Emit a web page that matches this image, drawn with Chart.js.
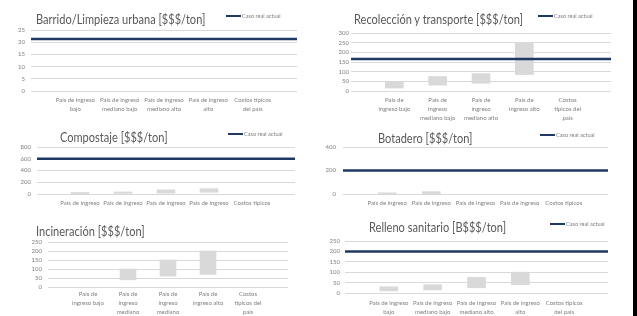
<!DOCTYPE html>
<html>
<head>
<meta charset="utf-8">
<script src="https://cdn.jsdelivr.net/npm/chart.js@4.4.0/dist/chart.umd.min.js"></script>
<style>
  body { margin: 0; width: 637px; height: 316px; overflow: hidden; background: #fff; position: relative; font-family: Lato, sans-serif; }
  .panel { position: absolute; background: #fff; overflow: hidden; }
  .panel canvas { position: absolute; left: 0; top: 0; }
  .ttl { position: absolute; white-space: nowrap; color: #595959; line-height: 1; font-size: 13px; transform: scaleX(0.85); transform-origin: 0 50%; }
  .leg { position: absolute; white-space: nowrap; color: #7f7f7f; font-size: 5.6px; line-height: 6px; display: flex; align-items: center; }
  .leg i { display: inline-block; width: 15px; height: 2px; background: #1f3864; margin-right: 1px; }
  .edge { position: absolute; left: 633px; top: 0; width: 4px; height: 316px; background: #000; z-index: 10; }
</style>
</head>
<body>
<div class="edge"></div>
<script>
// etiquetas de categorias (3 formas de corte de linea, como en el original)
const etiquetas2 = [['País de ingreso', 'bajo'], ['País de ingreso', 'mediano bajo'], ['País de ingreso', 'mediano alto'], ['País de ingreso', 'alto'], ['Costos típicos', 'del país']];
const etiquetas3 = [['País de', 'ingreso bajo'], ['País de', 'ingreso', 'mediano bajo'], ['País de', 'ingreso', 'mediano alto'], ['País de', 'ingreso alto'], ['Costos', 'típicos del', 'país']];
const etiquetas4 = [['País de', 'ingreso bajo'], ['País de', 'ingreso', 'mediano', 'bajo'], ['País de', 'ingreso', 'mediano', 'alto'], ['País de', 'ingreso alto'], ['Costos', 'típicos del', 'país']];

const titulos = ['Barrido/Limpieza urbana [$$$/ton]', 'Recolección y transporte [$$$/ton]', 'Compostaje [$$$/ton]', 'Botadero [$$$/ton]', 'Incineración [$$$/ton]', 'Relleno sanitario [B$$$/ton]'];
const leyenda = 'Caso real actual';
const casoRealActual = [21.3, 166, 600, 200, null, 200];

// rangos min / max por tipo de pais
const barridoMin = [null, null, null, null, null];
const barridoMax = [null, null, null, null, null];
const recoleccionMin = [15, 30, 40, 85, null];
const recoleccionMax = [50, 75, 90, 250, null];
const compostajeMin = [5, 10, 15, 30, null];
const compostajeMax = [25, 35, 70, 90, null];
const botaderoMin = [1, 3, null, null, null];
const botaderoMax = [10, 20, null, null, null];
const incineracionMin = [null, 40, 60, 70, null];
const incineracionMax = [null, 100, 150, 200, null];
const rellenoMin = [10, 15, 25, 40, null];
const rellenoMax = [30, 40, 75, 100, null];

const yMax = [25, 300, 800, 400, 250, 250];
const yStep = [5, 50, 200, 200, 50, 50];

// caja del panel [x, y, w, h], area del grafico [izq, arriba, der, abajo]
const paneles = [
  { box: [0, 0, 318, 112], plot: [31, 30, 297, 91], z: 1, lab: etiquetas2, min: barridoMin, max: barridoMax, yPad: 6, xPad: 4.5, bar: 18, ttl: [36, 19], leg: [226, 16] },
  { box: [318, 0, 315, 125], plot: [351, 33, 611, 91], z: 1, lab: etiquetas3, min: recoleccionMin, max: recoleccionMax, yPad: 2, xPad: 4.5, bar: 18, ttl: [354, 19], leg: [538, 16] },
  { box: [0, 112, 318, 95], plot: [37, 147, 295, 194], z: 2, lab: etiquetas2, min: compostajeMin, max: compostajeMax, yPad: 6, xPad: 5, bar: 18, ttl: [60, 137], leg: [228, 134] },
  { box: [318, 125, 315, 84], plot: [343, 147, 608, 194], z: 2, lab: etiquetas2, min: botaderoMin, max: botaderoMax, yPad: 7, xPad: 4.5, bar: 18, ttl: [378, 138], leg: [540, 135] },
  { box: [0, 207, 318, 109], plot: [48, 242, 288, 287], z: 3, lab: etiquetas4, min: incineracionMin, max: incineracionMax, yPad: 6, xPad: 3, bar: 16, ttl: [36, 231], leg: null },
  { box: [318, 209, 315, 107], plot: [345, 241, 608, 293], z: 3, lab: etiquetas2, min: rellenoMin, max: rellenoMax, yPad: 5, xPad: 6, bar: 18, ttl: [369, 227], leg: [550, 224] }
];

const Y_W = 20;
const tickFont = { family: 'Lato', size: 6 };

paneles.forEach((p, i) => {
  const [bx, by, bw, bh] = p.box;
  const [pl, pt, pr, pb] = p.plot;

  const div = document.createElement('div');
  div.className = 'panel';
  Object.assign(div.style, { left: bx + 'px', top: by + 'px', width: bw + 'px', height: bh + 'px', zIndex: p.z });
  const canvas = document.createElement('canvas');
  canvas.width = bw;
  canvas.height = bh;
  div.appendChild(canvas);

  const ttl = document.createElement('div');
  ttl.className = 'ttl';
  ttl.style.left = (p.ttl[0] - bx) + 'px';
  ttl.style.top = (p.ttl[1] - by - 6.5) + 'px';
  ttl.textContent = titulos[i];
  div.appendChild(ttl);

  if (p.leg && casoRealActual[i] !== null) {
    const leg = document.createElement('div');
    leg.className = 'leg';
    leg.style.left = (p.leg[0] - bx) + 'px';
    leg.style.top = (p.leg[1] - by - 3) + 'px';
    leg.innerHTML = '<i></i>' + leyenda;
    div.appendChild(leg);
  }
  document.body.appendChild(div);

  const labels = ['', ...p.lab, ''];
  const rangos = [null, ...p.min.map((v, k) => (v === null ? null : [v, p.max[k]])), null];
  const datasets = [{
    type: 'bar',
    label: 'Rango',
    data: rangos,
    backgroundColor: '#d9d9d9',
    barThickness: p.bar,
    order: 2
  }];
  if (casoRealActual[i] !== null) {
    datasets.push({
      type: 'line',
      label: leyenda,
      data: labels.map(() => casoRealActual[i]),
      borderColor: '#1f3864',
      borderWidth: 2.5,
      pointRadius: 0,
      order: 1
    });
  }

  new Chart(canvas, {
    type: 'bar',
    data: { labels: labels, datasets: datasets },
    options: {
      responsive: false,
      animation: false,
      layout: { padding: { left: pl - bx - Y_W, top: pt - by, right: bx + bw - pr, bottom: 0 } },
      plugins: { legend: { display: false }, tooltip: { enabled: false }, title: { display: false } },
      scales: {
        x: {
          offset: false,
          grid: { display: false, drawTicks: false },
          border: { display: false },
          ticks: { autoSkip: false, maxRotation: 0, padding: p.xPad, color: '#808080', font: { ...tickFont, lineHeight: 1.5 } },
          afterFit: (s) => { s.height = by + bh - pb; }
        },
        y: {
          min: 0,
          max: yMax[i],
          grid: { color: '#d9d9d9', lineWidth: 1, drawTicks: false },
          border: { display: false },
          ticks: { stepSize: yStep[i], autoSkip: false, padding: p.yPad, color: '#808080', font: tickFont },
          afterFit: (s) => { s.width = Y_W; }
        }
      }
    }
  });
});
</script>
</body>
</html>
